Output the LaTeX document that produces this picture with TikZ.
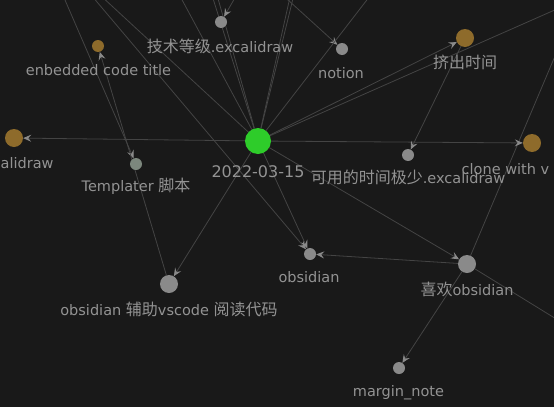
\documentclass[tikz,border=0pt]{standalone}
\usepackage{fontspec}
\setmainfont{DejaVu Sans}
\newfontfamily\cjkfont{Noto Sans CJK SC}
\newcommand{\zhtxt}[1]{{\cjkfont\fontsize{16}{18}\selectfont #1}}
\usetikzlibrary{arrows.meta}
\definecolor{bgc}{HTML}{191919}
\definecolor{edgec}{HTML}{444444}
\definecolor{arrc}{HTML}{8A8A8A}
\definecolor{txtc}{HTML}{939393}
\definecolor{grayc}{HTML}{8A8A8A}
\definecolor{goldc}{HTML}{8E6B2B}
\definecolor{greenc}{HTML}{2ECC2A}
\definecolor{tgrayc}{HTML}{7C877D}
\pgfdeclarelayer{backl}
\pgfdeclarelayer{edgel}
\pgfsetlayers{backl,edgel,main}
\begin{document}
\begin{tikzpicture}[x=1pt,y=-1pt,
  gnode/.style={circle,inner sep=0pt,minimum size=#1},
  lbl/.style={text=txtc,font=\fontsize{14.5}{18}\selectfont,inner sep=0pt,anchor=base},
  edge/.style={draw=edgec,line width=0.8pt},
  arr/.style={-{Stealth[length=8pt,width=7pt,inset=3pt,color=arrc]}}]
\useasboundingbox (0,0) rectangle (554,407);
\begin{pgfonlayer}{backl}
\fill[bgc] (0,0) rectangle (554,407);
\end{pgfonlayer}
% nodes
\node[gnode=26pt,fill=greenc] (c) at (258,141) {};
\node[gnode=12pt,fill=grayc] (jishu) at (221,22) {};
\node[gnode=12pt,fill=grayc] (notion) at (342,49) {};
\node[gnode=12pt,fill=goldc] (emb) at (98,46) {};
\node[gnode=18pt,fill=goldc] (jichu) at (465,38) {};
\node[gnode=18pt,fill=goldc] (exl) at (14,138) {};
\node[gnode=18pt,fill=goldc] (clone) at (532,143) {};
\node[gnode=12pt,fill=grayc] (keyong) at (408,155) {};
\node[gnode=12pt,fill=tgrayc] (templ) at (136,164) {};
\node[gnode=18pt,fill=grayc] (vsc) at (169,284) {};
\node[gnode=12pt,fill=grayc] (obs) at (310,254) {};
\node[gnode=18pt,fill=grayc] (xihuan) at (467,264) {};
\node[gnode=12pt,fill=grayc] (margin) at (399,368) {};
% off-screen ends
\coordinate (t1) at (52,-30);
\coordinate (t2) at (70,-30);
\coordinate (t3) at (73,-30);
\coordinate (t4) at (166,-30);
\coordinate (t5) at (204,-30);
\coordinate (t6) at (210,-30);
\coordinate (t7) at (251,-30);
\coordinate (t8) at (296,-30);
\coordinate (t9) at (300,-30);
\coordinate (t10) at (255,-30);
\coordinate (t11) at (390,-30);
\coordinate (r1) at (600,-10);
\coordinate (r2) at (580,-3);
\coordinate (r3) at (600,346);
% labels
\node[lbl] (ljishu) at (220,52) {\zhtxt{技术等级}.excalidraw};
\node[lbl] (lemb) at (98.5,75) {enbedded code title};
\node[lbl] (lnotion) at (341,78) {notion};
\node[lbl] (ljichu) at (465,68) {\zhtxt{挤出时间}};
\node[lbl,font=\fontsize{16}{18}\selectfont] (lc) at (258,177) {2022-03-15};
\node[lbl] (lkeyong) at (408,183) {\zhtxt{可用的时间极少}.excalidraw};
\node[lbl,anchor=base west] (lclone) at (461.5,174) {clone with v};
\node[lbl,anchor=base west] (lexl) at (0.5,168) {alidraw};
\node[lbl] (ltempl) at (136,191) {Templater \zhtxt{脚本}};
\node[lbl] (lvsc) at (169,315) {obsidian \zhtxt{辅助}vscode \zhtxt{阅读代码}};
\node[lbl] (lobs) at (309,282) {obsidian};
\node[lbl] (lxihuan) at (467,295) {\zhtxt{喜欢}obsidian};
\node[lbl] (lmargin) at (398.5,396) {margin\_note};
% edges
\begin{pgfonlayer}{edgel}
\clip (0,0) rectangle (554,407);
\draw[edge,arr] (t1) -- (templ);
\draw[edge,arr] (t2) -- (obs);
\draw[edge] (c) -- (t3);
\draw[edge] (c) -- (t4);
\draw[edge] (c) -- (t5);
\draw[edge] (c) -- (t6);
\draw[edge,arr] (t7) -- (jishu);
\draw[edge] (c) -- (t8);
\draw[edge] (c) -- (t9);
\draw[edge,arr] (t10) -- (notion);
\draw[edge] (c) -- (t11);
\draw[edge] (c) -- (r1);
\draw[edge] (xihuan) -- (r2);
\draw[edge] (xihuan) -- (r3);
\draw[edge,arr] (c) -- (exl);
\draw[edge,arr] (c) -- (jichu);
\draw[edge,arr] (c) -- (clone);
\draw[edge,arr] (c) -- (vsc);
\draw[edge,arr] (c) -- (obs);
\draw[edge,arr] (c) -- (xihuan);
\draw[edge,arr] (jichu) -- (keyong);
\draw[edge,arr] (xihuan) -- (obs);
\draw[edge,arr] (xihuan) -- (margin);
\draw[edge,arr] (vsc) -- (emb);
\end{pgfonlayer}
\end{tikzpicture}
\end{document}
